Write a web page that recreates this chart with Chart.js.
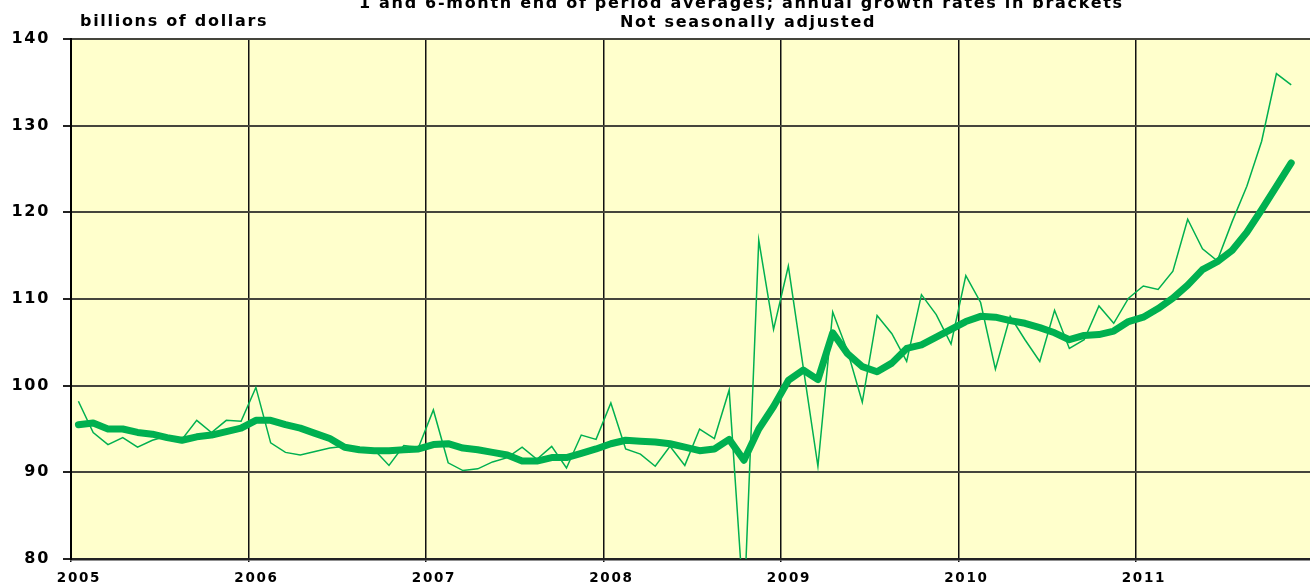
<!DOCTYPE html>
<html>
<head>
<meta charset="utf-8">
<title>billions of dollars</title>
<script src="https://cdn.jsdelivr.net/npm/chart.js@4"></script>
<style>
  html, body { margin: 0; padding: 0; background: #fff; overflow: hidden; }
  #wrap { position: relative; width: 1310px; height: 586px; }
</style>
</head>
<body>
<div id="wrap"><canvas id="grafico"></canvas></div>
<script>
/* ============================================================
   DADOS (mensal, jan/2005 - nov/2011)
============================================================ */
const anos = ["2005", "2006", "2007", "2008", "2009", "2010", "2011"];
const yTicks = [80, 90, 100, 110, 120, 130, 140];

// media de 1 mes (linha fina)
const media1m = [
  98.2, 94.6, 93.2, 94.0, 92.9, 93.7, 94.2, 93.8, 96.0, 94.6, 96.0, 95.9,
  99.8, 93.4, 92.3, 92.0, 92.4, 92.8, 93.0, 92.8, 92.6, 90.8, 93.1, 92.9,
  97.2, 91.1, 90.2, 90.4, 91.2, 91.7, 92.9, 91.5, 93.0, 90.5, 94.3, 93.8,
  98.0, 92.7, 92.1, 90.7, 93.0, 90.8, 95.0, 93.9, 99.5, 74.0, 116.8, 106.5,
  113.8, 102.2, 90.7, 108.5, 104.0, 98.1, 108.1, 106.0, 102.8, 110.5, 108.2, 104.8,
  112.7, 109.6, 101.9, 108.0, 105.3, 102.8, 108.7, 104.3, 105.3, 109.2, 107.2, 110.1,
  111.5, 111.1, 113.2, 119.2, 115.8, 114.4, 118.9, 123.0, 128.2, 136.0, 134.7,
];

// media de 6 meses (linha grossa)
const media6m = [
  95.5, 95.7, 95.0, 95.0, 94.6, 94.4, 94.0, 93.7, 94.1, 94.3, 94.7, 95.1,
  96.0, 96.0, 95.5, 95.1, 94.5, 93.9, 92.9, 92.6, 92.5, 92.5, 92.6, 92.7,
  93.2, 93.3, 92.8, 92.6, 92.3, 92.0, 91.3, 91.3, 91.7, 91.7, 92.2, 92.7,
  93.3, 93.7, 93.6, 93.5, 93.3, 92.9, 92.5, 92.7, 93.8, 91.4, 95.0, 97.6,
  100.6, 101.8, 100.7, 106.1, 103.7, 102.2, 101.6, 102.6, 104.3, 104.7, 105.6, 106.5,
  107.4, 108.0, 107.9, 107.5, 107.2, 106.7, 106.1, 105.3, 105.8, 105.9, 106.3, 107.4,
  107.9, 108.9, 110.1, 111.6, 113.4, 114.3, 115.6, 117.7, 120.3, 123.0, 125.7,
];

/* ============================================================
   UTILS
============================================================ */
const VERDE = "#00b050";
const FONTE = "'DejaVu Sans', 'Liberation Sans', sans-serif";
const ESPACO = "1.7px";

// ponto no meio de cada mes (meses contados desde jan/2005)
const toPts = (arr) => arr.map((v, i) => ({ x: i + 0.5, y: v }));

const fundoPlot = {
  id: "fundoPlot",
  beforeDraw(chart) {
    const { ctx, chartArea: a } = chart;
    ctx.letterSpacing = ESPACO;
    ctx.save();
    ctx.fillStyle = "#ffffcc";
    ctx.fillRect(a.left, a.top, a.right - a.left, a.bottom - a.top);
    ctx.restore();
  },
};

const textos = {
  id: "textos",
  afterDraw(chart) {
    const ctx = chart.ctx;
    ctx.save();
    ctx.letterSpacing = ESPACO;
    ctx.fillStyle = "#000";
    ctx.textAlign = "left";
    ctx.textBaseline = "alphabetic";
    ctx.font = `bold 16px ${FONTE}`;
    ctx.fillText("1 and 6-month end of period averages; annual growth rates in brackets", 359, 8);
    ctx.fillText("Not seasonally adjusted", 620, 27);
    ctx.fillText("billions of dollars", 80, 26);
    ctx.restore();
  },
};

/* ============================================================
   GRAFICO
============================================================ */
function montarGrafico() {
  const ctx = document.getElementById("grafico");

  new Chart(ctx, {
    type: "line",
    data: {
      datasets: [
        {
          label: "6-month",
          data: toPts(media6m),
          borderColor: VERDE,
          borderWidth: 7,
          borderCapStyle: "round",
          borderJoinStyle: "round",
          pointRadius: 0,
          tension: 0,
          order: 0,
        },
        {
          label: "1-month",
          data: toPts(media1m),
          borderColor: VERDE,
          borderWidth: 1.5,
          pointRadius: 0,
          tension: 0,
          order: 1,
        },
      ],
    },
    options: {
      responsive: true,
      maintainAspectRatio: false,
      animation: false,
      layout: { padding: { top: 39, right: 0, left: 0, bottom: 0 } },
      plugins: {
        legend: { display: false },
        tooltip: { enabled: false },
        title: { display: false },
      },
      scales: {
        x: {
          type: "linear",
          min: 0,
          max: 83.77,
          afterBuildTicks: (s) => {
            s.ticks = anos.map((_, i) => ({ value: i * 12 }));
          },
          afterFit: (s) => {
            s.height = 27;
          },
          grid: {
            color: "#111",
            lineWidth: 1.5,
            tickLength: 3,
            tickColor: "#111",
          },
          border: { color: "#222", width: 2.5 },
          ticks: {
            autoSkip: false,
            maxRotation: 0,
            padding: 8,
            labelOffset: 8,
            color: "#000",
            font: { family: FONTE, size: 13.5, weight: "bold" },
            callback: (v) => anos[Math.round(v / 12)] ?? "",
          },
        },
        y: {
          type: "linear",
          min: 80,
          max: 140,
          afterBuildTicks: (s) => {
            s.ticks = yTicks.map((v) => ({ value: v }));
          },
          afterFit: (s) => {
            s.width = 71;
          },
          grid: {
            color: "#45453c",
            lineWidth: 2,
            tickLength: 8,
            tickColor: "#222",
          },
          border: { color: "#000", width: 2 },
          ticks: {
            padding: 13,
            color: "#000",
            font: { family: FONTE, size: 16, weight: "bold" },
          },
        },
      },
    },
    plugins: [fundoPlot, textos],
  });
}

document.addEventListener("DOMContentLoaded", montarGrafico);
</script>
</body>
</html>
